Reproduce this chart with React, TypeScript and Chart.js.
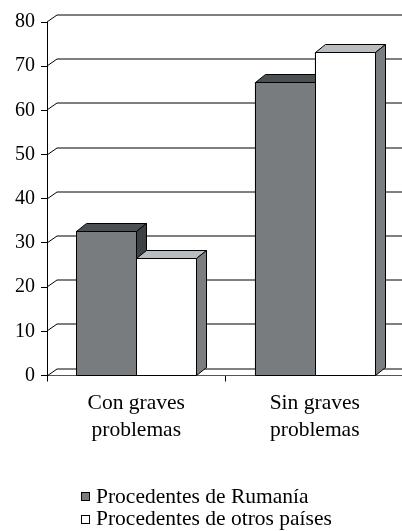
import React, { useEffect, useRef } from "react";
import { Chart, registerables } from "chart.js";

Chart.register(...registerables);

const categories: string[][] = [
  ["Con graves", "problemas"],
  ["Sin graves", "problemas"],
];
const seriesNames = ["Procedentes de Rumanía", "Procedentes de otros países"];
const rumania = [32.8, 66.4];
const otros = [26.5, 73.1];
const yMin = 0;
const yMax = 80;
const yStep = 10;

const FONT = '"Liberation Serif", "Times New Roman", Times, serif';
const DX = 10;
const BAR_DY = 8;
const WALL_DY = 7;

const faces = [
  { front: "#787c7f", top: "#4b5053", side: "#3d4144" },
  { front: "#ffffff", top: "#b9bdbf", side: "#7a7e81" },
];

const threeD = {
  id: "threeD",
  beforeDatasetsDraw(chart: any) {
    const { ctx, chartArea, scales } = chart;
    const y = scales.y;
    ctx.save();
    ctx.strokeStyle = "#000";
    ctx.lineWidth = 1;
    for (const t of y.ticks) {
      const yy = Math.round(y.getPixelForValue(t.value));
      ctx.beginPath();
      ctx.moveTo(chartArea.left, yy);
      ctx.lineTo(chartArea.left + DX, yy - WALL_DY);
      ctx.lineTo(chart.width, yy - WALL_DY);
      ctx.stroke();
    }
    ctx.restore();
  },
  afterDatasetsDraw(chart: any) {
    const { ctx } = chart;
    ctx.save();
    ctx.strokeStyle = "#000";
    ctx.lineWidth = 1;
    ctx.lineJoin = "miter";
    const n = chart.data.labels.length;
    for (let i = 0; i < n; i++) {
      chart.data.datasets.forEach((_ds: any, d: number) => {
        const el = chart.getDatasetMeta(d).data[i];
        const p = el.getProps(["x", "y", "width", "base"], true);
        const l = Math.round(p.x - p.width / 2) + 0.5;
        const r = Math.round(p.x + p.width / 2) + 0.5;
        const t = Math.round(p.y) + 0.5;
        const b = Math.round(p.base) + 0.5;
        const f = faces[d];
        // top face
        ctx.beginPath();
        ctx.moveTo(l, t);
        ctx.lineTo(l + DX, t - BAR_DY);
        ctx.lineTo(r + DX, t - BAR_DY);
        ctx.lineTo(r, t);
        ctx.closePath();
        ctx.fillStyle = f.top;
        ctx.fill();
        ctx.stroke();
        // side face
        ctx.beginPath();
        ctx.moveTo(r, t);
        ctx.lineTo(r + DX, t - BAR_DY);
        ctx.lineTo(r + DX, b - BAR_DY);
        ctx.lineTo(r, b);
        ctx.closePath();
        ctx.fillStyle = f.side;
        ctx.fill();
        ctx.stroke();
        // front face
        ctx.beginPath();
        ctx.rect(l, t, r - l, b - t);
        ctx.fillStyle = f.front;
        ctx.fill();
        ctx.stroke();
      });
    }
    ctx.restore();
  },
};

export default function App() {
  const ref = useRef<HTMLCanvasElement | null>(null);

  useEffect(() => {
    if (!ref.current) return;
    const chart = new Chart(ref.current, {
      type: "bar",
      data: {
        labels: categories,
        datasets: [
          {
            label: seriesNames[0],
            data: rumania,
            backgroundColor: faces[0].front,
            borderColor: "#000",
            borderWidth: 1,
          },
          {
            label: seriesNames[1],
            data: otros,
            backgroundColor: faces[1].front,
            borderColor: "#000",
            borderWidth: 1,
          },
        ],
      },
      options: {
        animation: false,
        responsive: false,
        devicePixelRatio: 1,
        layout: { padding: { top: 22, left: 0, right: 0, bottom: 85.5 } },
        datasets: {
          bar: { categoryPercentage: 120 / 178.5, barPercentage: 1 },
        },
        plugins: {
          legend: { display: false },
          tooltip: { enabled: false },
        },
        scales: {
          x: {
            offset: true,
            grid: {
              display: true,
              drawOnChartArea: false,
              drawTicks: true,
              tickLength: 6,
              color: "#000",
              offset: true,
            },
            border: { display: true, color: "#555", width: 1 },
            ticks: {
              color: "#000",
              font: { family: FONT, size: 21.5, lineHeight: 1.28 },
              padding: 8,
              maxRotation: 0,
              autoSkip: false,
            },
            afterFit: (s: any) => {
              s.height = 70;
            },
          },
          y: {
            min: yMin,
            max: yMax,
            ticks: {
              stepSize: yStep,
              color: "#000",
              font: { family: FONT, size: 20 },
              padding: 6,
            },
            grid: {
              display: true,
              drawOnChartArea: false,
              drawTicks: true,
              tickLength: 6,
              color: "#000",
            },
            border: { display: true, color: "#000", width: 1 },
            afterFit: (s: any) => {
              s.width = 47;
            },
          },
        },
      },
      plugins: [threeD],
    });
    return () => chart.destroy();
  }, []);

  const textStyle: React.CSSProperties = {
    position: "absolute",
    left: 96,
    fontFamily: FONT,
    fontSize: 21.5,
    lineHeight: "23px",
    color: "#000",
    whiteSpace: "nowrap",
  };
  const markerStyle = (bg: string, top: number): React.CSSProperties => ({
    position: "absolute",
    left: 81,
    top,
    width: 9,
    height: 9,
    boxSizing: "border-box",
    border: "1px solid #000",
    background: bg,
  });

  return (
    <div
      style={{
        position: "absolute",
        left: 0,
        top: 0,
        width: 402,
        height: 531,
        overflow: "hidden",
        background: "#fff",
      }}
    >
      <canvas
        ref={ref}
        width={404}
        height={531}
        style={{ position: "absolute", left: 0, top: 0, width: 404, height: 531 }}
      />
      <div style={markerStyle(faces[0].front, 492)} />
      <div style={{ ...textStyle, top: 485 }}>{seriesNames[0]}</div>
      <div style={markerStyle(faces[1].front, 515)} />
      <div style={{ ...textStyle, top: 507 }}>{seriesNames[1]}</div>
    </div>
  );
}
